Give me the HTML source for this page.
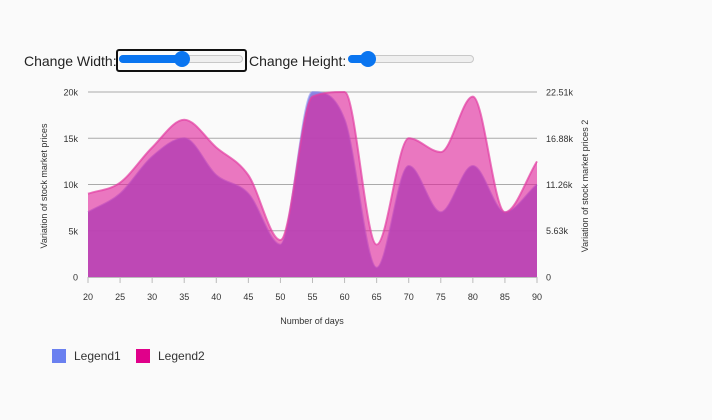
<!DOCTYPE html>
<html><head><meta charset="utf-8"><style>
html,body{margin:0;padding:0;background:#fafafa;width:712px;height:420px;overflow:hidden;font-family:"Liberation Sans",sans-serif;}
.lbl{position:absolute;font-size:14px;color:#222;top:53px;}
.slider{position:absolute;height:10px;top:54px;}
.track{position:absolute;left:0;right:0;top:1px;height:8px;border-radius:5px;background:#efefef;border:1px solid #c8c8c8;box-sizing:border-box;}
.fill{position:absolute;left:0;top:1px;height:8px;border-radius:5px;background:#0a75f0;}
.thumb{position:absolute;top:-3px;width:16px;height:16px;border-radius:50%;background:#0a75f0;}
</style></head><body>
<div class="lbl" style="left:24px">Change Width:</div>
<div style="position:absolute;left:116px;top:49px;width:127px;height:19px;border:2px solid #111;border-radius:3px;"></div>
<div class="slider" style="left:119px;width:124px"><div class="track"></div><div class="fill" style="width:64px"></div><div class="thumb" style="left:55px"></div></div>
<div class="lbl" style="left:249px">Change Height:</div>
<div class="slider" style="left:348px;width:126px"><div class="track"></div><div class="fill" style="width:22px"></div><div class="thumb" style="left:12px"></div></div>
<svg id="chart" width="712" height="420" style="position:absolute;left:0;top:0" font-family="Liberation Sans, sans-serif"></svg>
<script>
const days=[20,25,30,35,40,45,50,55,60,65,70,75,80,85,90];
const series1=[7000,9000,13000,15000,11000,9000,3500,20000,17000,1000,12000,7000,12000,7000,10000];
const series2=[10130,11480,15760,19130,15760,12380,4500,21950,22510,3940,16880,15200,21950,7880,14070];
const leftTicks=[0,5000,10000,15000,20000];
const leftTickLabels=['0','5k','10k','15k','20k'];
const rightTicks=[0,5630,11260,16880,22510];
const rightTickLabels=['0','5.63k','11.26k','16.88k','22.51k'];
const NS='http://www.w3.org/2000/svg';
const svg=document.getElementById('chart');
const X0=88,X1=537,Y0=277,Y1=92;
const xs=d=>X0+(d-20)/(90-20)*(X1-X0);
const yL=v=>Y0-v/20000*(Y0-Y1);
const yR=v=>Y0-v/22510*(Y0-Y1);
function mk(t,a,p){const e=document.createElementNS(NS,t);for(const k in a)e.setAttribute(k,a[k]);(p||svg).appendChild(e);return e;}
leftTicks.forEach((v,i)=>{
 if(v>0){const g=mk('line',{x1:X0,x2:X1,y1:yL(v),y2:yL(v),stroke:'#aaa','stroke-width':1});
 
 }
 const t=mk('text',{x:78,y:yL(v)+3.5,'text-anchor':'end','font-size':9,fill:'#333'});t.textContent=leftTickLabels[i];
 
 
});
rightTicks.forEach((v,i)=>{
 const t=mk('text',{x:546,y:yR(v)+3.5,'font-size':9,fill:'#333'});t.textContent=rightTickLabels[i];
 
 
});
function path(vals,yf){
 const p=vals.map((v,i)=>[xs(days[i]),yf(v)]);
 const n=p.length,s=[],m=[];
 for(let i=0;i<n-1;i++)s.push((p[i+1][1]-p[i][1])/(p[i+1][0]-p[i][0]));
 m[0]=s[0];m[n-1]=s[n-2];
 for(let i=1;i<n-1;i++){m[i]=(s[i-1]*s[i]<=0)?0:(s[i-1]+s[i])/2;
  const lim=3*Math.min(Math.abs(s[i-1]),Math.abs(s[i]));if(Math.abs(m[i])>lim)m[i]=Math.sign(m[i])*lim;}
 let d='M'+p[0][0]+','+p[0][1];
 for(let i=0;i<n-1;i++){
  const h=(p[i+1][0]-p[i][0])/3;
  d+=' C'+(p[i][0]+h)+','+(p[i][1]+m[i]*h)+' '+(p[i+1][0]-h)+','+(p[i+1][1]-m[i+1]*h)+' '+p[i+1][0]+','+p[i+1][1];
 }
 return d;
}
const l1=path(series1,yL),l2=path(series2,yR);
const a1=mk('path',{d:l1+' L'+X1+','+Y0+' L'+X0+','+Y0+'Z',fill:'#7f78dc','fill-opacity':0.9});


mk('path',{d:l1,fill:'none',stroke:'#8a8ef0','stroke-width':2,'stroke-opacity':0.6});
const a2=mk('path',{d:l2+' L'+X1+','+Y0+' L'+X0+','+Y0+'Z',fill:'#e0209a','fill-opacity':0.6});


mk('path',{d:l2,fill:'none',stroke:'#e23ea2','stroke-width':2,'stroke-opacity':0.7});
mk('line',{x1:X0,x2:X1,y1:Y0+0.5,y2:Y0+0.5,stroke:'#bbb'});
days.forEach(d=>{
 mk('line',{x1:xs(d),x2:xs(d),y1:Y0,y2:Y0+6,stroke:'#bbb'});
 const t=mk('text',{x:xs(d),y:300,'text-anchor':'middle','font-size':9,fill:'#333'});t.textContent=d;
 
 
});
let t=mk('text',{x:312,y:324,'text-anchor':'middle','font-size':9,fill:'#333'});t.textContent='Number of days';


t=mk('text',{x:0,y:0,'text-anchor':'middle','font-size':9,fill:'#333',transform:'translate(47,186) rotate(-90)'});t.textContent='Variation of stock market prices';


t=mk('text',{x:0,y:0,'text-anchor':'middle','font-size':9,fill:'#333',transform:'translate(588,186) rotate(-90)'});t.textContent='Variation of stock market prices 2';


[['#6a80f0','Legend1',52],['#e0008a','Legend2',136]].forEach(([c,n,x])=>{
 const r=mk('rect',{x:x,y:349,width:14,height:14,fill:c});
 
 
 const tt=mk('text',{x:x+22,y:360,'font-size':12,fill:'#333'});tt.textContent=n;
 
 
});
</script>
</body></html>
